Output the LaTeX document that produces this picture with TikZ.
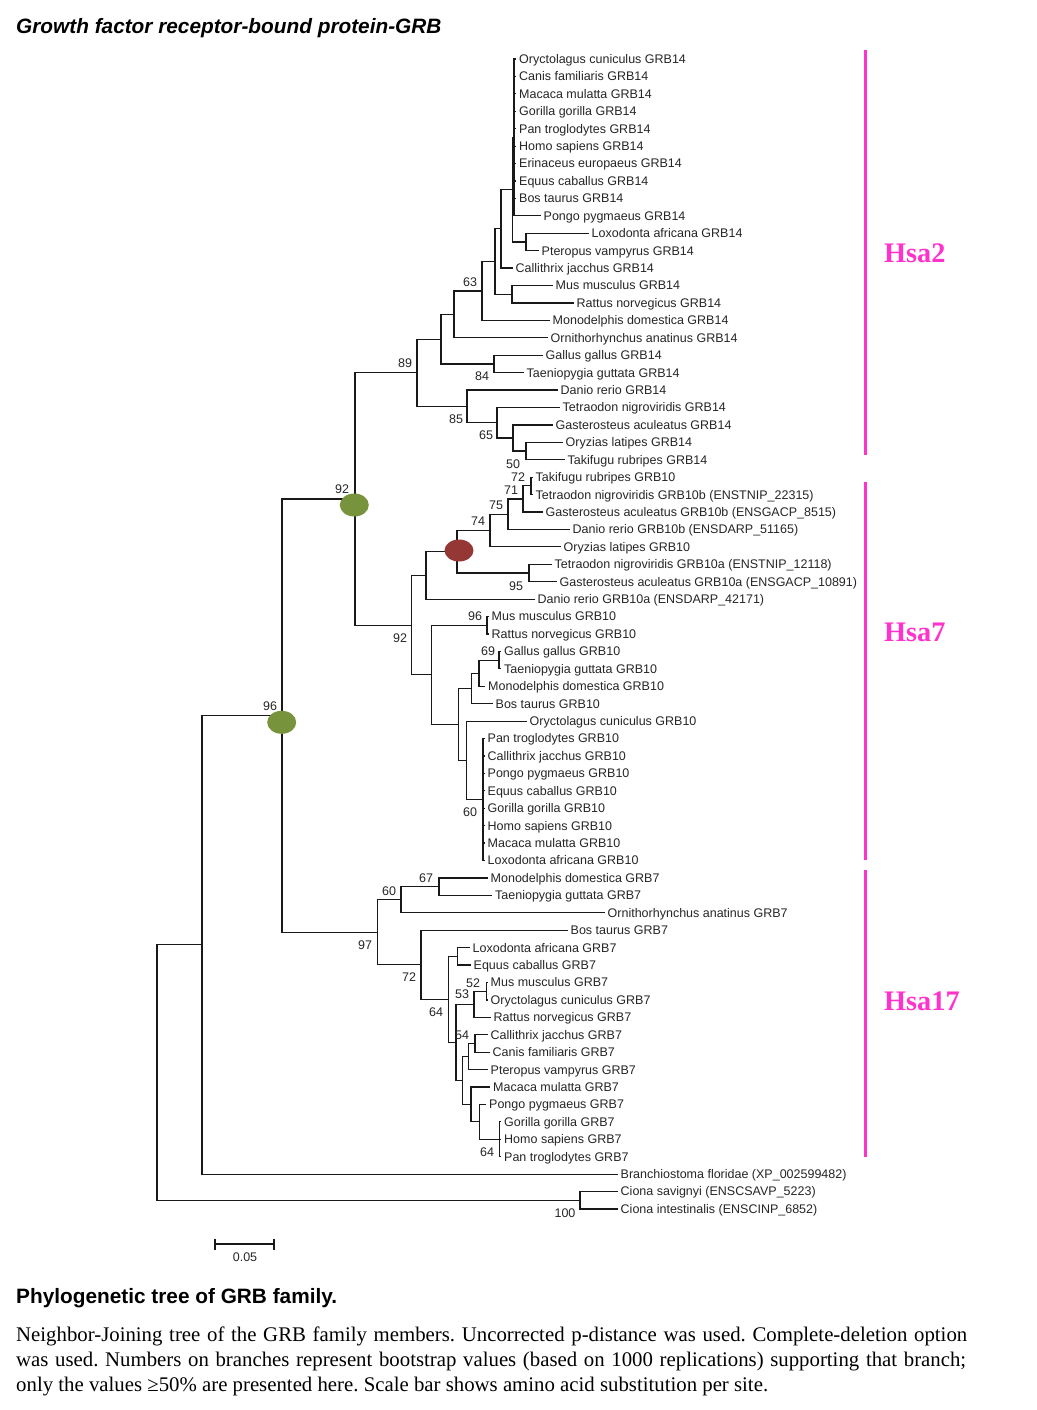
\documentclass[tikz,border=0pt]{standalone}
\usepackage{fontspec}
\setmainfont{Liberation Serif}
\setsansfont{Liberation Sans}
\usetikzlibrary{shapes.geometric}
\frenchspacing
\definecolor{hsapink}{RGB}{255,51,204}
\definecolor{nodegreen}{RGB}{119,147,60}
\definecolor{nodered}{RGB}{149,55,53}
\definecolor{branchcol}{RGB}{25,25,25}
\newcommand\Lf[5]{%
  \coordinate (#1) at (#3,{59+(#4-1)*17.424});
  \draw[br] (#2) |- (#1);
  \node[lab] (#1t) at ([xshift=3.5pt,yshift=-4.4pt]#1) {#5};}
\newcommand\Ed[2]{\draw[br] (#1) |- (#2);}
\newcommand\Bs[4]{\node[bs] (#1) at (#2,{#3+4.5}) {#4};}
\begin{document}
\begin{tikzpicture}[x=1pt,y=-1pt,
  br/.style={draw=branchcol,line width=1.2pt,line cap=rect},
  lab/.style={font=\sffamily\fontsize{12.5}{14}\selectfont,anchor=base west,inner sep=0pt,text=black!85},
  bs/.style={font=\sffamily\fontsize{12.5}{14}\selectfont,anchor=base,inner sep=0pt,text=black!85},
  gdot/.style={ellipse,fill=nodegreen,minimum width=29pt,minimum height=23pt,inner sep=0pt},
  rdot/.style={ellipse,fill=nodered,minimum width=29pt,minimum height=22pt,inner sep=0pt},
  hsa/.style={font=\rmfamily\bfseries\fontsize{28.3}{30}\selectfont,text=hsapink,anchor=base west,inner sep=0pt},
  bar/.style={draw=hsapink,line width=3pt},
  captxt/.style={anchor=base west,inner sep=0pt,font=\rmfamily\fontsize{20.8}{24}\selectfont}]
\useasboundingbox[fill=white] (0,0) rectangle (1036,1410);
% internal nodes
\coordinate (P1) at (514,137.41);
\coordinate (LP) at (526,241.95);
\coordinate (Nb) at (512.5,189.68);
\coordinate (Nc) at (501,228.89);
\coordinate (MR) at (512,294.23);
\coordinate (Nd) at (495,261.56);
\coordinate (N63) at (482,290.96);
\coordinate (Mam) at (454,314.37);
\coordinate (Bird) at (494,363.92);
\coordinate (Tet) at (441,339.15);
\coordinate (N50) at (526,451.04);
\coordinate (Ngo) at (513,437.97);
\coordinate (N65) at (497,422.73);
\coordinate (N85) at (467,406.39);
\coordinate (N89) at (417,372.77);
\coordinate (N72) at (531,485.89);
\coordinate (N71) at (523,498.96);
\coordinate (N75) at (508,514.20);
\coordinate (N74) at (490,530.54);
\coordinate (N95) at (529,573.01);
\coordinate (Red) at (457,551.77);
\coordinate (Fish) at (426,575.46);
\coordinate (N96) at (487,625.28);
\coordinate (N69) at (499,660.13);
\coordinate (BM) at (479,673.20);
\coordinate (BMB) at (471.7,688.44);
\coordinate (P2) at (483,799.52);
\coordinate (OP) at (466.7,760.31);
\coordinate (Amn) at (458.3,724.38);
\coordinate (Mam10) at (431.7,674.83);
\coordinate (N92b) at (411.7,625.15);
\coordinate (N92a) at (355,498.96);
\coordinate (N67) at (439,886.64);
\coordinate (N60) at (401,899.71);
\coordinate (LE) at (457.3,956.34);
\coordinate (N52) at (486.5,991.19);
\coordinate (N53) at (474,1004.26);
\coordinate (CC) at (475,1043.46);
\coordinate (N54) at (468.3,1056.53);
\coordinate (P3) at (499.3,1139.29);
\coordinate (PoP) at (479.3,1121.87);
\coordinate (MaP) at (471,1104.45);
\coordinate (N54M) at (462.7,1080.49);
\coordinate (N456) at (456,1042.38);
\coordinate (N64) at (448.3,999.36);
\coordinate (N72g) at (421,964.78);
\coordinate (N97) at (377.7,932.25);
\coordinate (N96r) at (282,715.61);
\coordinate (N202) at (202,944.87);
\coordinate (Cio) at (580,1200.27);
\coordinate (Root) at (157,1072.57);
% internal edges
\Ed{Root}{N202}\Ed{Root}{Cio}
\Ed{N202}{N96r}
\Ed{N96r}{N92a}\Ed{N96r}{N97}
\Ed{N92a}{N89}\Ed{N92a}{N92b}
\Ed{N89}{Tet}\Ed{N89}{N85}
\Ed{Tet}{Mam}\Ed{Tet}{Bird}
\Ed{Mam}{N63}\Ed{N63}{Nd}\Ed{Nd}{Nc}\Ed{Nd}{MR}
\Ed{Nc}{Nb}\Ed{Nb}{P1}\Ed{Nb}{LP}
\Ed{N85}{N65}\Ed{N65}{Ngo}\Ed{Ngo}{N50}
\Ed{N92b}{Fish}\Ed{N92b}{Mam10}
\Ed{Fish}{Red}\Ed{Red}{N74}\Ed{Red}{N95}
\Ed{N74}{N75}\Ed{N75}{N71}\Ed{N71}{N72}
\Ed{Mam10}{N96}\Ed{Mam10}{Amn}
\Ed{Amn}{BMB}\Ed{Amn}{OP}\Ed{BMB}{BM}\Ed{BM}{N69}\Ed{OP}{P2}
\Ed{N97}{N60}\Ed{N97}{N72g}\Ed{N60}{N67}
\Ed{N72g}{N64}\Ed{N64}{LE}\Ed{N64}{N456}
\Ed{N456}{N53}\Ed{N456}{N54M}\Ed{N53}{N52}
\Ed{N54M}{N54}\Ed{N54M}{MaP}\Ed{N54}{CC}
\Ed{MaP}{PoP}\Ed{PoP}{P3}
% leaves GRB14
\Lf{a1}{P1}{515.5}{1}{Oryctolagus cuniculus GRB14}
\Lf{a2}{P1}{515.5}{2}{Canis familiaris GRB14}
\Lf{a3}{P1}{515.5}{3}{Macaca mulatta GRB14}
\Lf{a4}{P1}{515.5}{4}{Gorilla gorilla GRB14}
\Lf{a5}{P1}{515.5}{5}{Pan troglodytes GRB14}
\Lf{a6}{P1}{515.5}{6}{Homo sapiens GRB14}
\Lf{a7}{P1}{515.5}{7}{Erinaceus europaeus GRB14}
\Lf{a8}{P1}{515.5}{8}{Equus caballus GRB14}
\Lf{a9}{P1}{515.5}{9}{Bos taurus GRB14}
\Lf{a10}{P1}{540}{10}{Pongo pygmaeus GRB14}
\Lf{a11}{LP}{588}{11}{Loxodonta africana GRB14}
\Lf{a12}{LP}{538}{12}{Pteropus vampyrus GRB14}
\Lf{a13}{Nc}{512}{13}{Callithrix jacchus GRB14}
\Lf{a14}{MR}{552}{14}{Mus musculus GRB14}
\Lf{a15}{MR}{573}{15}{Rattus norvegicus GRB14}
\Lf{a16}{N63}{549}{16}{Monodelphis domestica GRB14}
\Lf{a17}{Mam}{547}{17}{Ornithorhynchus anatinus GRB14}
\Lf{a18}{Bird}{542}{18}{Gallus gallus GRB14}
\Lf{a19}{Bird}{523}{19}{Taeniopygia guttata GRB14}
\Lf{a20}{N85}{557}{20}{Danio rerio GRB14}
\Lf{a21}{N65}{559}{21}{Tetraodon nigroviridis GRB14}
\Lf{a22}{Ngo}{552}{22}{Gasterosteus aculeatus GRB14}
\Lf{a23}{N50}{562}{23}{Oryzias latipes GRB14}
\Lf{a24}{N50}{564}{24}{Takifugu rubripes GRB14}
% leaves GRB10
\Lf{b25}{N72}{532}{25}{Takifugu rubripes GRB10}
\Lf{b26}{N72}{532}{26}{Tetraodon nigroviridis GRB10b (ENSTNIP\_22315)}
\Lf{b27}{N71}{542}{27}{Gasterosteus aculeatus GRB10b (ENSGACP\_8515)}
\Lf{b28}{N75}{569}{28}{Danio rerio GRB10b (ENSDARP\_51165)}
\Lf{b29}{N74}{560}{29}{Oryzias latipes GRB10}
\Lf{b30}{N95}{551}{30}{Tetraodon nigroviridis GRB10a (ENSTNIP\_12118)}
\Lf{b31}{N95}{556}{31}{Gasterosteus aculeatus GRB10a (ENSGACP\_10891)}
\Lf{b32}{Fish}{534}{32}{Danio rerio GRB10a (ENSDARP\_42171)}
\Lf{b33}{N96}{488}{33}{Mus musculus GRB10}
\Lf{b34}{N96}{488}{34}{Rattus norvegicus GRB10}
\Lf{b35}{N69}{500.5}{35}{Gallus gallus GRB10}
\Lf{b36}{N69}{500.5}{36}{Taeniopygia guttata GRB10}
\Lf{b37}{BM}{484.5}{37}{Monodelphis domestica GRB10}
\Lf{b38}{BMB}{492}{38}{Bos taurus GRB10}
\Lf{b39}{OP}{526}{39}{Oryctolagus cuniculus GRB10}
\Lf{b40}{P2}{484}{40}{Pan troglodytes GRB10}
\Lf{b41}{P2}{484}{41}{Callithrix jacchus GRB10}
\Lf{b42}{P2}{484}{42}{Pongo pygmaeus GRB10}
\Lf{b43}{P2}{484}{43}{Equus caballus GRB10}
\Lf{b44}{P2}{484}{44}{Gorilla gorilla GRB10}
\Lf{b45}{P2}{484}{45}{Homo sapiens GRB10}
\Lf{b46}{P2}{484}{46}{Macaca mulatta GRB10}
\Lf{b47}{P2}{484}{47}{Loxodonta africana GRB10}
% leaves GRB7
\Lf{c48}{N67}{487}{48}{Monodelphis domestica GRB7}
\Lf{c49}{N67}{491.5}{49}{Taeniopygia guttata GRB7}
\Lf{c50}{N60}{604}{50}{Ornithorhynchus anatinus GRB7}
\Lf{c51}{N72g}{567}{51}{Bos taurus GRB7}
\Lf{c52}{LE}{469}{52}{Loxodonta africana GRB7}
\Lf{c53}{LE}{470}{53}{Equus caballus GRB7}
\Lf{c54}{N52}{487}{54}{Mus musculus GRB7}
\Lf{c55}{N52}{487}{55}{Oryctolagus cuniculus GRB7}
\Lf{c56}{N53}{490}{56}{Rattus norvegicus GRB7}
\Lf{c57}{CC}{487}{57}{Callithrix jacchus GRB7}
\Lf{c58}{CC}{489}{58}{Canis familiaris GRB7}
\Lf{c59}{N54}{487}{59}{Pteropus vampyrus GRB7}
\Lf{c60}{MaP}{489.5}{60}{Macaca mulatta GRB7}
\Lf{c61}{PoP}{485.5}{61}{Pongo pygmaeus GRB7}
\Lf{c62}{P3}{500.5}{62}{Gorilla gorilla GRB7}
\Lf{c63}{P3}{500.5}{63}{Homo sapiens GRB7}
\Lf{c64}{P3}{500.5}{64}{Pan troglodytes GRB7}
\Lf{c65}{N202}{617}{65}{Branchiostoma floridae (XP\_002599482)}
\Lf{c66}{Cio}{617}{66}{Ciona savignyi (ENSCSAVP\_5223)}
\Lf{c67}{Cio}{617}{67}{Ciona intestinalis (ENSCINP\_6852)}
% node markers
\node[gdot] (e1) at (354.3,505) {};
\node[gdot] (e2) at (281.7,722.3) {};
\node[rdot] (e3) at (459,550.5) {};
% bootstrap values
\Bs{s63}{470}{282}{63}
\Bs{s89}{405}{363}{89}
\Bs{s84}{482}{376}{84}
\Bs{s85}{456}{419}{85}
\Bs{s65}{486}{435}{65}
\Bs{s50}{513}{464}{50}
\Bs{s72}{518}{477}{72}
\Bs{s71}{511}{490}{71}
\Bs{s75}{496}{505}{75}
\Bs{s74}{478}{521}{74}
\Bs{s95}{516}{586}{95}
\Bs{s96}{475}{616}{96}
\Bs{s92b}{400}{638}{92}
\Bs{s69}{488}{651}{69}
\Bs{s60b}{470}{812}{60}
\Bs{s92a}{342}{489}{92}
\Bs{s96r}{270}{706}{96}
\Bs{s67}{426}{878}{67}
\Bs{s60}{389}{891}{60}
\Bs{s97}{365}{945}{97}
\Bs{s72g}{409}{977}{72}
\Bs{s64}{436}{1012}{64}
\Bs{s52}{473}{983}{52}
\Bs{s53}{462}{994}{53}
\Bs{s54}{462}{1035}{54}
\Bs{s64b}{487}{1152}{64}
\Bs{s100}{565}{1213}{100}
% chromosome bars
\coordinate (b1a) at (865,50); \coordinate (b1b) at (865,455);
\coordinate (b2a) at (865,482); \coordinate (b2b) at (865,860);
\coordinate (b3a) at (865,870); \coordinate (b3b) at (865,1157);
\draw[bar] (b1a) -- (b1b);
\draw[bar] (b2a) -- (b2b);
\draw[bar] (b3a) -- (b3b);
\node[hsa] (h2) at (884,262) {Hsa2};
\node[hsa] (h7) at (884,641) {Hsa7};
\node[hsa] (h17) at (884,1010) {Hsa17};
% scale bar
\coordinate (sb1) at (215,1244); \coordinate (sb2) at (274,1244);
\draw[line width=2.6pt,draw=branchcol] (sb1) -- (sb2);
\draw[line width=2pt,draw=branchcol] ([yshift=5.5pt]sb1) -- ([yshift=-5.5pt]sb1);
\draw[line width=2pt,draw=branchcol] ([yshift=5.5pt]sb2) -- ([yshift=-5.5pt]sb2);
\node[bs] (sbl) at (245,1261.5) {0.05};
% titles and caption
\node[anchor=base west,inner sep=0pt,font=\sffamily\bfseries\itshape\fontsize{20.8}{24}\selectfont] (title) at (16,34) {Growth factor receptor-bound protein-GRB};
\node[anchor=base west,inner sep=0pt,font=\sffamily\bfseries\fontsize{20.8}{24}\selectfont] (cap) at (16,1303) {Phylogenetic tree of GRB family.};
\node[captxt] (l1) at (16,1341) {\makebox[951pt][s]{Neighbor-Joining tree of the GRB family members. Uncorrected p-distance was used. Complete-deletion option}};
\node[captxt] (l2) at (16,1366) {\makebox[950pt][s]{was used. Numbers on branches represent bootstrap values (based on 1000 replications) supporting that branch;}};
\node[captxt] (l3) at (16,1391) {only the values ≥50\% are presented here. Scale bar shows amino acid substitution per site.};
\end{tikzpicture}
\end{document}
